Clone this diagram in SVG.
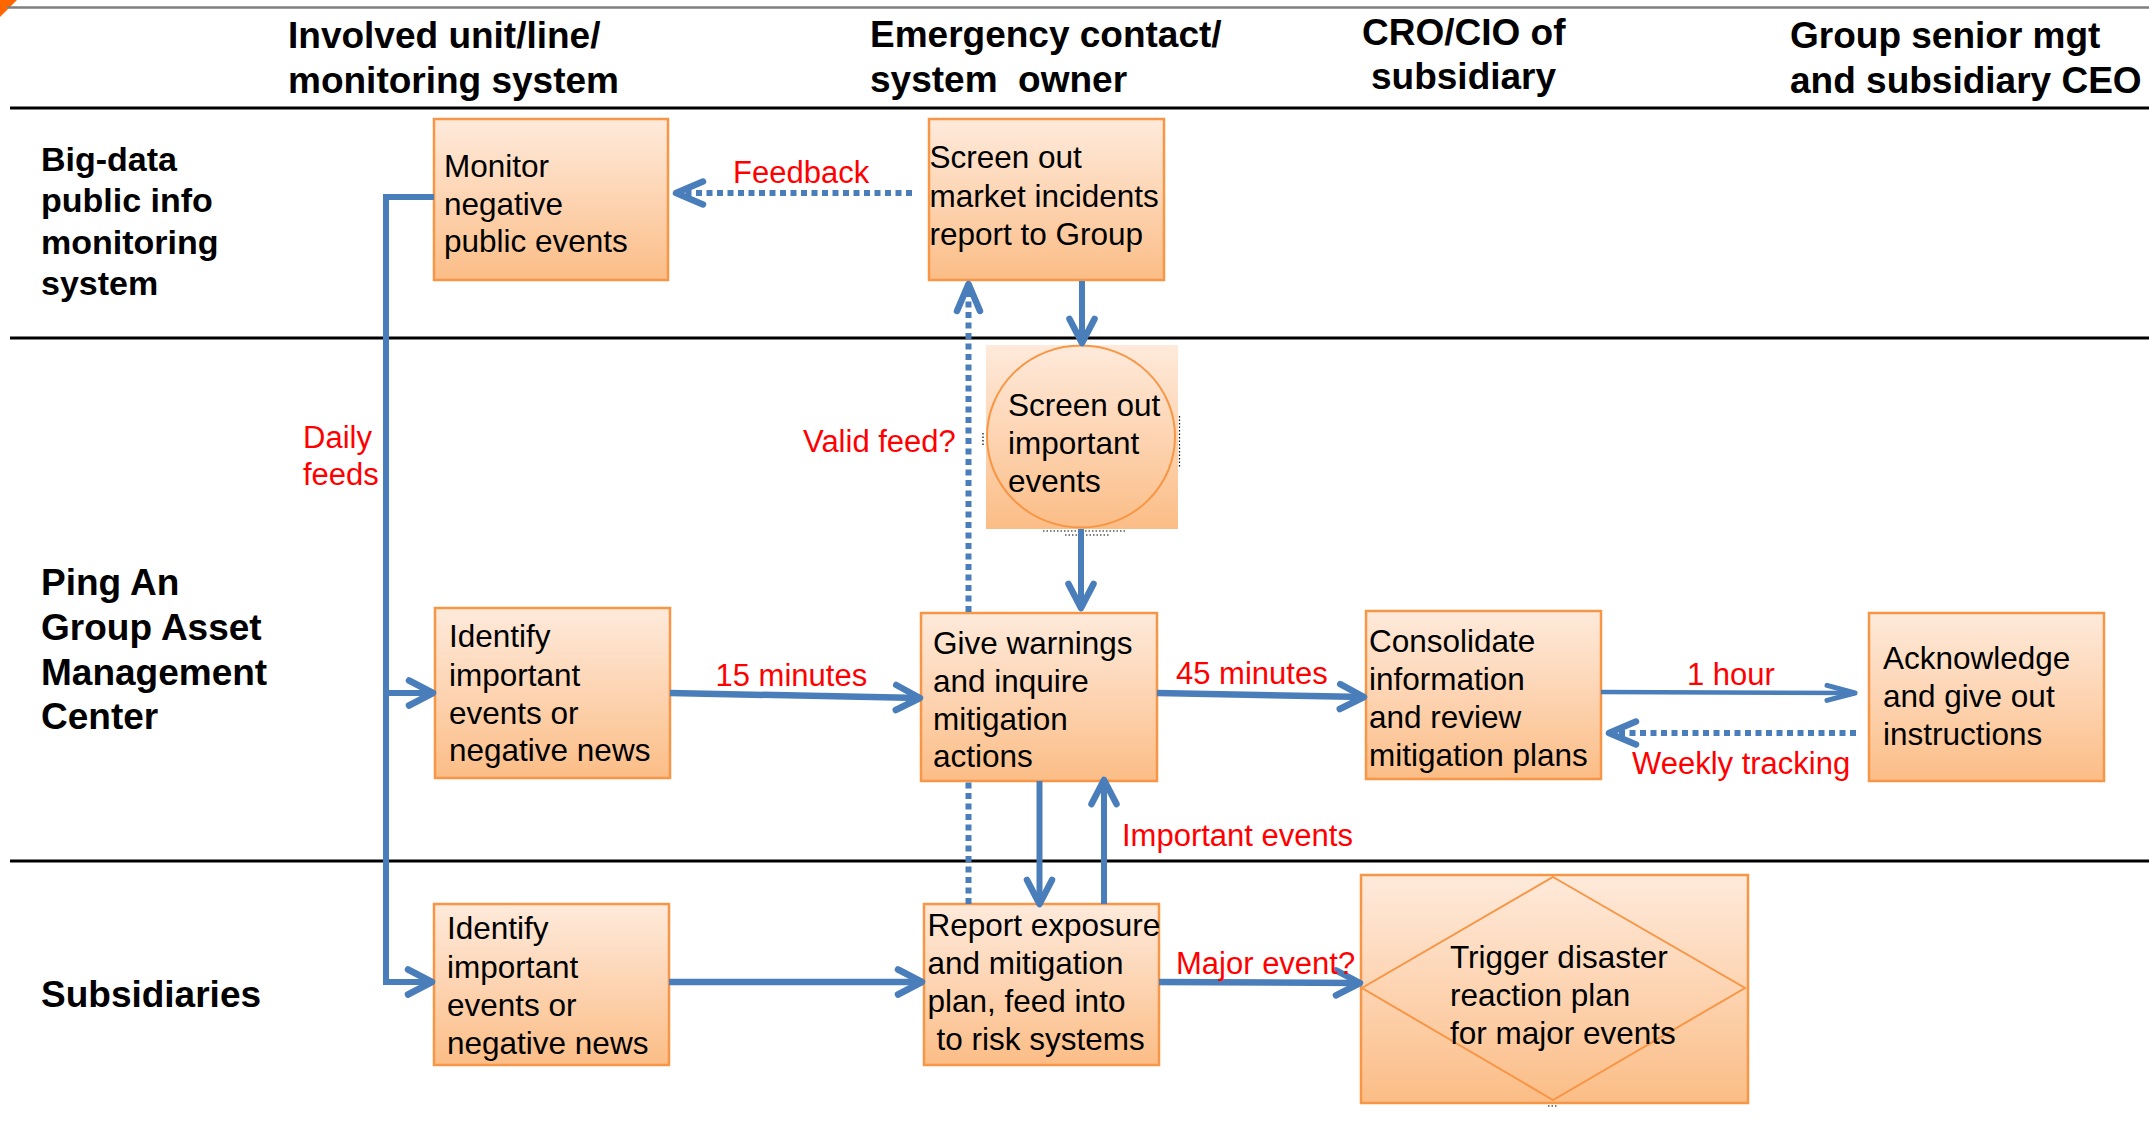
<svg xmlns="http://www.w3.org/2000/svg" width="2149" height="1121" viewBox="0 0 2149 1121">
  <style>
    .hdr { font-family: "Liberation Sans", Arial, sans-serif; font-weight: bold; font-size: 37px; fill: #000; }
    .lane { font-family: "Liberation Sans", Arial, sans-serif; font-weight: bold; font-size: 37px; fill: #000; }
    .lane-sm { font-family: "Liberation Sans", Arial, sans-serif; font-weight: bold; font-size: 34px; fill: #000; }
    .nt { font-family: "Liberation Sans", Arial, sans-serif; font-size: 31.5px; fill: #000; }
    .lbl { font-family: "Liberation Sans", Arial, sans-serif; font-size: 31px; fill: #FF0000; }
    .box { fill: url(#boxFill); stroke: #F79646; stroke-width: 2.5; }
    .sep { stroke: #000; stroke-width: 3; }
    .flow { fill: none; stroke: #4A7EBB; stroke-width: 6; stroke-linejoin: miter; }
    .flow-h { fill: none; stroke: #4A7EBB; stroke-width: 6.5; }
    .flow-thin { fill: none; stroke: #4A7EBB; stroke-width: 4.5; }
    .dots { fill: none; stroke: #4A7EBB; stroke-width: 6; stroke-dasharray: 6 4.5; }
    .handle { fill: none; stroke: #000; stroke-width: 1.2; stroke-dasharray: 1.5 2; }
  </style>
  <defs>
    <linearGradient id="boxFill" x1="0" y1="0" x2="0" y2="1">
      <stop offset="0" stop-color="#FEEADB"/>
      <stop offset="0.5" stop-color="#FDD4B2"/>
      <stop offset="1" stop-color="#FBBD86"/>
    </linearGradient>
    <marker id="arrow" markerUnits="userSpaceOnUse" markerWidth="40" markerHeight="40" refX="0" refY="0" orient="auto" overflow="visible">
      <path d="M-24,-12.5 L0,0 L-24,12.5" fill="none" stroke="#4A7EBB" stroke-width="6.5" stroke-linecap="round" stroke-linejoin="round"/>
    </marker>
    <marker id="arrowThin" markerUnits="userSpaceOnUse" markerWidth="40" markerHeight="40" refX="0" refY="0" orient="auto" overflow="visible">
      <path d="M-28,-7.5 L0,0 L-28,7.5" fill="none" stroke="#4A7EBB" stroke-width="5" stroke-linecap="round" stroke-linejoin="round"/>
    </marker>
    <marker id="arrowDot" markerUnits="userSpaceOnUse" markerWidth="40" markerHeight="40" refX="0" refY="0" orient="auto" overflow="visible">
      <path d="M-27,-11.5 L0,0 L-27,11.5" fill="none" stroke="#4A7EBB" stroke-width="6.5" stroke-dasharray="none" stroke-linecap="round" stroke-linejoin="round"/>
    </marker>
  </defs>

  <rect x="0" y="0" width="2149" height="1121" fill="#FFFFFF"/>

  <!-- page frame: corner mark, top rule, lane separators -->
  <g id="frame">
    <polygon points="0,0 17,0 0,17" fill="#FF6600"/>
    <line x1="7" y1="7.5" x2="2149" y2="7.5" stroke="#7F7F7F" stroke-width="2.5"/>
    <line class="sep" x1="10" y1="108" x2="2149" y2="108"/>
    <line class="sep" x1="10" y1="338" x2="2149" y2="338"/>
    <line class="sep" x1="10" y1="861" x2="2149" y2="861"/>
  </g>

  <!-- column headers -->
  <g id="headers">
    <text class="hdr" x="288" y="48">Involved unit/line/</text>
    <text class="hdr" x="288" y="93">monitoring system</text>
    <text class="hdr" x="870" y="47" xml:space="preserve">Emergency contact/</text>
    <text class="hdr" x="870" y="92" xml:space="preserve">system  owner</text>
    <text class="hdr" x="1362" y="45">CRO/CIO of</text>
    <text class="hdr" x="1371" y="89">subsidiary</text>
    <text class="hdr" x="1790" y="48">Group senior mgt</text>
    <text class="hdr" x="1790" y="93">and subsidiary CEO</text>
  </g>

  <!-- lane titles -->
  <g id="lanes">
    <text class="lane-sm" x="41" y="171">Big-data</text>
    <text class="lane-sm" x="41" y="212">public info</text>
    <text class="lane-sm" x="41" y="254">monitoring</text>
    <text class="lane-sm" x="41" y="295">system</text>
    <text class="lane" x="41" y="595">Ping An</text>
    <text class="lane" x="41" y="640">Group Asset</text>
    <text class="lane" x="41" y="685">Management</text>
    <text class="lane" x="41" y="729">Center</text>
    <text class="lane" x="41" y="1007">Subsidiaries</text>
  </g>

  <!-- process steps -->
  <g id="monitor-public-events">
    <rect class="box" x="434" y="119" width="234" height="161"/>
    <text class="nt" x="444" y="177">Monitor</text>
    <text class="nt" x="444" y="214.5">negative</text>
    <text class="nt" x="444" y="252">public events</text>
  </g>

  <g id="screen-market-incidents">
    <rect class="box" x="929" y="119" width="235" height="161"/>
    <text class="nt" x="929.5" y="168">Screen out</text>
    <text class="nt" x="929.5" y="207">market incidents</text>
    <text class="nt" x="929.5" y="245">report to Group</text>
  </g>

  <g id="screen-important-events">
    <rect x="986" y="345" width="192" height="184" fill="url(#boxFill)"/>
    <ellipse cx="1081" cy="436.5" rx="94" ry="91" fill="none" stroke="#F79646" stroke-width="2"/>
    <text class="nt" x="1008" y="416">Screen out</text>
    <text class="nt" x="1008" y="454">important</text>
    <text class="nt" x="1008" y="492">events</text>
  </g>

  <g id="group-identify-events">
    <rect class="box" x="435" y="608" width="235" height="170"/>
    <text class="nt" x="449" y="647">Identify</text>
    <text class="nt" x="449" y="686">important</text>
    <text class="nt" x="449" y="723.5">events or</text>
    <text class="nt" x="449" y="761">negative news</text>
  </g>

  <g id="give-warnings">
    <rect class="box" x="921" y="613" width="236" height="168"/>
    <text class="nt" x="933" y="654">Give warnings</text>
    <text class="nt" x="933" y="692">and inquire</text>
    <text class="nt" x="933" y="729.5">mitigation</text>
    <text class="nt" x="933" y="767">actions</text>
  </g>

  <g id="consolidate-information">
    <rect class="box" x="1366" y="611" width="235" height="168"/>
    <text class="nt" x="1369" y="652">Consolidate</text>
    <text class="nt" x="1369" y="690">information</text>
    <text class="nt" x="1369" y="728">and review</text>
    <text class="nt" x="1369" y="766">mitigation plans</text>
  </g>

  <g id="acknowledge-instructions">
    <rect class="box" x="1869" y="613" width="235" height="168"/>
    <text class="nt" x="1883" y="669">Acknowledge</text>
    <text class="nt" x="1883" y="707">and give out</text>
    <text class="nt" x="1883" y="745">instructions</text>
  </g>

  <g id="subsidiary-identify-events">
    <rect class="box" x="434" y="904" width="235" height="161"/>
    <text class="nt" x="447" y="939">Identify</text>
    <text class="nt" x="447" y="978">important</text>
    <text class="nt" x="447" y="1016">events or</text>
    <text class="nt" x="447" y="1054">negative news</text>
  </g>

  <g id="report-exposure">
    <rect class="box" x="924" y="904" width="235" height="161"/>
    <text class="nt" x="927.5" y="936">Report exposure</text>
    <text class="nt" x="927.5" y="974">and mitigation</text>
    <text class="nt" x="927.5" y="1012">plan, feed into</text>
    <text class="nt" x="936.5" y="1050">to risk systems</text>
  </g>

  <g id="trigger-disaster-plan">
    <rect class="box" x="1361" y="875" width="387" height="228"/>
    <polygon points="1553,877 1745,988 1553,1100 1362,988" fill="none" stroke="#F79646" stroke-width="2"/>
    <text class="nt" x="1450" y="968">Trigger disaster</text>
    <text class="nt" x="1450" y="1006">reaction plan</text>
    <text class="nt" x="1450" y="1044">for major events</text>
  </g>

  <!-- small selection handles left around two shapes -->
  <g id="handles">
    <line class="handle" x1="1179.5" y1="416" x2="1179.5" y2="468"/>
    <line class="handle" x1="983" y1="433" x2="983" y2="445"/>
    <line class="handle" x1="1043" y1="531" x2="1127" y2="531"/>
    <line class="handle" x1="1065" y1="535" x2="1110" y2="535"/>
    <line class="handle" x1="1548" y1="1106" x2="1558" y2="1106"/>
  </g>

  <!-- connectors and their labels -->
  <g id="connectors">
    <path class="flow" d="M434,197 H386 V982 H432" marker-end="url(#arrow)"/>
    <path class="flow" d="M386,693 H433" marker-end="url(#arrow)"/>
    <path class="dots" d="M912,193 H676" marker-end="url(#arrowDot)"/>
    <path class="dots" d="M968.5,904 V781"/>
    <path class="dots" d="M968.5,612 V284" marker-end="url(#arrowDot)"/>
    <path class="flow" d="M1082,281 V343" marker-end="url(#arrow)"/>
    <path class="flow" d="M1081,529 V608" marker-end="url(#arrow)"/>
    <path class="flow-h" d="M670,693 L920,698" marker-end="url(#arrow)"/>
    <path class="flow-h" d="M1157,693 L1364,697" marker-end="url(#arrow)"/>
    <path class="flow-thin" d="M1601,692 L1855,693" marker-end="url(#arrowThin)"/>
    <path class="dots" d="M1856,733 H1609" marker-end="url(#arrowDot)"/>
    <path class="flow" d="M1039.5,781 V904" marker-end="url(#arrow)"/>
    <path class="flow" d="M1104,904 V780" marker-end="url(#arrow)"/>
    <path class="flow-h" d="M669,982 H922" marker-end="url(#arrow)"/>
    <path class="flow-h" d="M1159,982 L1360,983" marker-end="url(#arrow)"/>

    <text class="lbl" x="733" y="183">Feedback</text>
    <text class="lbl" x="303" y="448">Daily</text>
    <text class="lbl" x="303" y="485">feeds</text>
    <text class="lbl" x="803" y="452">Valid feed?</text>
    <text class="lbl" x="715.5" y="686">15 minutes</text>
    <text class="lbl" x="1176" y="684">45 minutes</text>
    <text class="lbl" x="1687" y="685">1 hour</text>
    <text class="lbl" x="1632" y="774">Weekly tracking</text>
    <text class="lbl" x="1122" y="846">Important events</text>
    <text class="lbl" x="1176" y="974">Major event?</text>
  </g>
</svg>
